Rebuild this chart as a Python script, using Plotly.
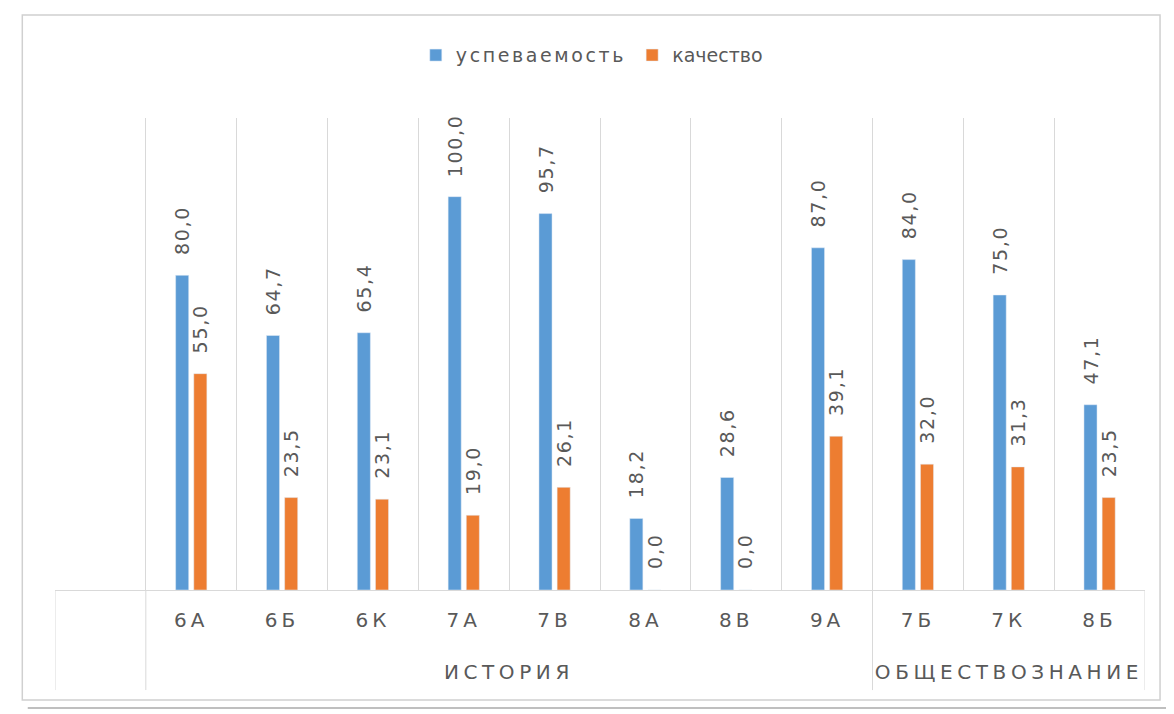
import plotly.graph_objects as go

groups = [" ", "ИСТОРИЯ", "ИСТОРИЯ", "ИСТОРИЯ", "ИСТОРИЯ", "ИСТОРИЯ", "ИСТОРИЯ", "ИСТОРИЯ", "ИСТОРИЯ",
          "ОБЩЕСТВОЗНАНИЕ", "ОБЩЕСТВОЗНАНИЕ", "ОБЩЕСТВОЗНАНИЕ"]
classes = [" ", "6А", "6Б", "6К", "7А", "7В", "8А", "8В", "9А", "7Б", "7К", "8Б"]
uspev = [None, 80.0, 64.7, 65.4, 100.0, 95.7, 18.2, 28.6, 87.0, 84.0, 75.0, 47.1]
kach = [None, 55.0, 23.5, 23.1, 19.0, 26.1, 0.0, 0.0, 39.1, 32.0, 31.3, 23.5]

GRAY = "#595959"
GRID = "#D9D9D9"
FONT = "DejaVu Sans"
PAD = "\u00a0" * 3

fig = go.Figure()
fig.add_trace(go.Bar(x=classes, y=uspev, name="успеваемость", legend="legend",
                     marker_color="#5B9BD5",
                     texttemplate=PAD + "%{y:.1f}", textposition="outside", textangle=-90,
                     constraintext="none",
                     textfont=dict(size=19, color=GRAY, family=FONT), cliponaxis=False))
fig.add_trace(go.Bar(x=classes, y=kach, name="качество", legend="legend2",
                     marker_color="#ED7D31",
                     texttemplate=PAD + "%{y:.1f}", textposition="outside", textangle=-90,
                     constraintext="none",
                     textfont=dict(size=19, color=GRAY, family=FONT), cliponaxis=False))

leg_common = dict(orientation="h", yanchor="middle", y=1.133, xanchor="left",
                  font=dict(size=19, color=GRAY, family=FONT), bgcolor="rgba(0,0,0,0)")
fig.update_layout(
    width=1166, height=706,
    margin=dict(l=47, r=29, t=110, b=124),
    paper_bgcolor="white", plot_bgcolor="white",
    separators=", ",
    barmode="group", bargap=0.6, bargroupgap=0.28,
    font=dict(family=FONT, color=GRAY, size=20),
    legend=dict(x=0.331, **leg_common),
    legend2=dict(x=0.5295, **leg_common),
    showlegend=True,
)
fig.update_xaxes(type="category", categoryorder="array", categoryarray=classes,
                 tickson="boundaries", showgrid=True, gridcolor=GRID, gridwidth=1,
                 showline=True, linecolor=GRID, linewidth=1,
                 tickfont=dict(size=20, color=GRAY, family=FONT), ticks="",
                 ticklabelstandoff=12, range=[-0.5, len(classes) - 0.5])
fig.update_yaxes(range=[0, 120], showgrid=False, showticklabels=False, zeroline=False,
                 showline=False, ticks="")

# group labels and dividers of the two-level category axis
uniq = []
for g in groups:
    if g not in uniq:
        uniq.append(g)
for g in uniq:
    idx = [i for i, v in enumerate(groups) if v == g]
    lo, hi = min(idx), max(idx)
    if g.strip():
        fig.add_annotation(x=(lo + hi) / 2, xref="x", y=-0.174, yref="paper",
                           text=g, showarrow=False, yanchor="middle",
                           font=dict(size=20, color=GRAY, family=FONT))
    fig.add_shape(type="line", xref="x", yref="paper", x0=lo - 0.5, x1=lo - 0.5, y0=0, y1=-0.212,
                  line=dict(color=GRID, width=1))
    if g == uniq[-1]:
        fig.add_shape(type="line", xref="x", yref="paper", x0=hi + 0.5, x1=hi + 0.5, y0=0, y1=-0.212,
                      line=dict(color=GRID, width=1))

# chart frame
fig.add_shape(type="rect", xref="paper", yref="paper", x0=-0.030, x1=1.0138, y0=-0.233, y1=1.218,
              line=dict(color="#D0D0D0", width=1.5))
fig.add_shape(type="line", xref="paper", yref="paper", x0=-0.025, x1=1.04, y0=-0.25, y1=-0.25,
              line=dict(color="#BFBFBF", width=2))

post = """
var gd = document.getElementById('{plot_id}');
function spacing() {
  gd.querySelectorAll('.xtick text').forEach(function(t){ t.style.letterSpacing = '4px'; });
  gd.querySelectorAll('.annotation-text').forEach(function(t){ t.style.letterSpacing = '4.6px'; });
  gd.querySelectorAll('.legendtext').forEach(function(t){ t.style.letterSpacing = '2.6px'; });
  gd.querySelectorAll('.bartext').forEach(function(t){ t.style.letterSpacing = '1.7px'; });
  gd.querySelectorAll('.legend [clip-path], .legend').forEach(function(e){ e.removeAttribute('clip-path'); });
}
spacing();
gd.on('plotly_afterplot', spacing);
"""

fig.write_html("out.html", post_script=post)
